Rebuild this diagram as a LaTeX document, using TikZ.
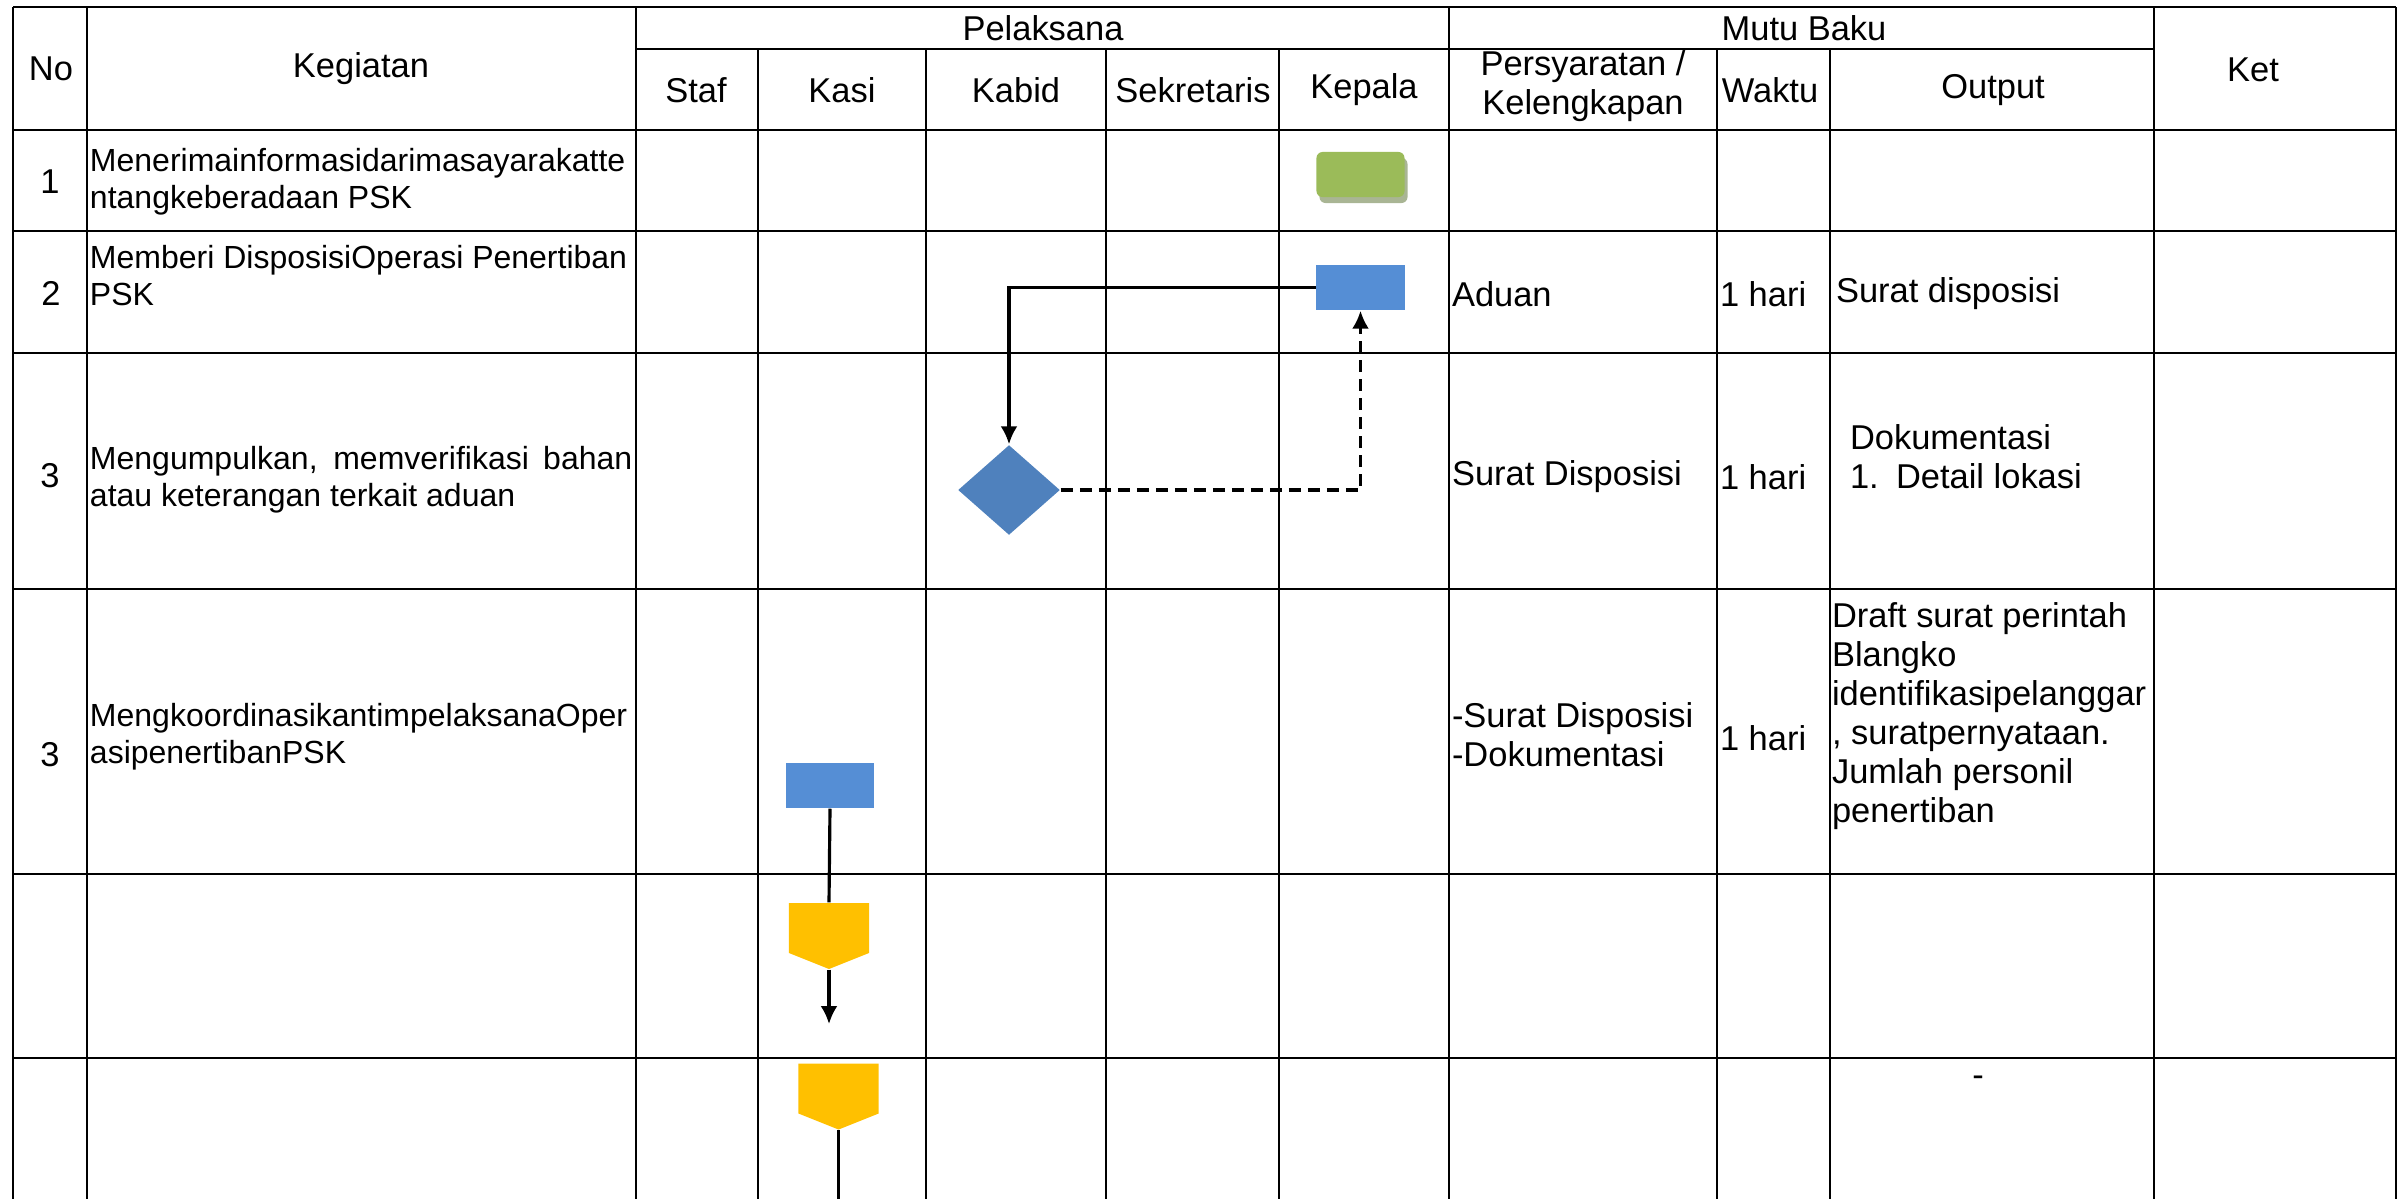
\documentclass[tikz,border=0pt]{standalone}
\usepackage{fontspec}
\setmainfont{Liberation Sans}
\usepackage{tikz}
\usetikzlibrary{positioning,arrows.meta,shapes.geometric,shadows}
\definecolor{startgreen}{HTML}{9BBB59}
\definecolor{startshadow}{HTML}{A9B594}
\definecolor{procblue}{HTML}{558ED5}
\definecolor{decblue}{HTML}{4F81BD}
\definecolor{pageyellow}{HTML}{FFC000}
\tikzstyle{tableline}=[draw=black,line width=0.6pt]
\tikzstyle{flow}=[arrows={-{Latex[length=0.18cm,width=0.17cm]}},draw=black,line width=0.9pt]
\tikzstyle{link}=[draw=black,line width=0.9pt]
\tikzstyle{celltext}=[inner sep=0pt,outer sep=0pt,font=\fontsize{9.8pt}{11.1pt}\selectfont]
\tikzstyle{headtext}=[style=celltext,align=center]
\tikzstyle{entrytext}=[style=celltext,anchor=west,align=left]
\tikzstyle{tasktext}=[style=entrytext,font=\fontsize{9.1pt}{10.6pt}\selectfont]
\def\boxwidth{0.88cm}
\def\boxheight{0.45cm}
\def\taskwidth{5.42cm}
\def\pointdepth{0.16cm}
\tikzstyle{startbox}=[fill=startgreen,rounded corners=0.06cm,inner sep=0pt,
    minimum width=\boxwidth,minimum height=\boxheight,
    drop shadow={shadow xshift=0.03cm,shadow yshift=-0.06cm,fill=startshadow,opacity=1}]
\tikzstyle{process}=[fill=procblue,inner sep=0pt,minimum width=\boxwidth,minimum height=\boxheight]
\tikzstyle{decision}=[diamond,fill=decblue,inner sep=0pt,minimum width=1.02cm,minimum height=0.9cm]
\tikzstyle{offpage}=[inner sep=0pt,minimum width=0.8cm,minimum height=0.66cm,
    path picture={\fill[pageyellow] (path picture bounding box.north west)
        -- (path picture bounding box.north east)
        -- ([yshift=\pointdepth]path picture bounding box.south east)
        -- (path picture bounding box.south)
        -- ([yshift=\pointdepth]path picture bounding box.south west) -- cycle;}]

\begin{document}
\begin{tikzpicture}[x=0.01cm,y=-0.01cm]
    \useasboundingbox (0,0) rectangle (2400,1199);
    \foreach \x in {13,87,636,1449,2154,2396} \draw[tableline] (\x,7) -- (\x,1199);
    \foreach \x in {758,926,1106,1279,1717,1830} \draw[tableline] (\x,49) -- (\x,1199);
    \foreach \y in {7,130,231,353,589,874,1058} \draw[tableline] (13,\y) -- (2396,\y);
    \draw[tableline] (636,49) -- (2154,49);

    \node[headtext] (hno) at (51,69) {No};
    \node[headtext] (hkeg) at (361,69) {Kegiatan};
    \node[headtext] (hpel) at (1043,28) {Pelaksana};
    \node[headtext] (hstaf) at (696,90) {Staf};
    \node[headtext] (hkasi) at (842,90) {Kasi};
    \node[headtext] (hkabid) at (1016,90) {Kabid};
    \node[headtext] (hsek) at (1193,90) {Sekretaris};
    \node[headtext] (hkep) at (1364,90) {Kepala};
    \node[headtext] (hmutu) at (1804,28) {Mutu Baku};
    \node[headtext] (hsyarat) at (1583,86) {Persyaratan /\\Kelengkapan};
    \node[headtext] (hwaktu) at (1770,90) {Waktu};
    \node[headtext] (houtput) at (1993,90) {Output};
    \node[headtext] (hket) at (2253,70) {Ket};

    \node[headtext] (no1) at (50,182) {1};
    \node[headtext] (no2) at (51,293) {2};
    \node[headtext] (no3) at (50,476) {3};
    \node[headtext] (no4) at (50,755) {3};

    \node[tasktext] (keg1) at (90,181.5) {Menerimainformasidarimasayarakatte\\ntangkeberadaan PSK};
    \node[tasktext] (keg2) at (90,275.5) {Memberi DisposisiOperasi Penertiban\\PSK};
    \node[tasktext] (keg3) at (90,479.5) {\makebox[\taskwidth][s]{Mengumpulkan, memverifikasi bahan}\\atau keterangan terkait aduan};
    \node[tasktext] (keg4) at (90,736.5) {MengkoordinasikantimpelaksanaOper\\asipenertibanPSK};

    \node[entrytext] (syarat2) at (1452,294) {Aduan};
    \node[entrytext] (syarat3) at (1452,477) {Surat Disposisi};
    \node[entrytext] (syarat4) at (1452,735) {-Surat Disposisi\\-Dokumentasi};
    \node[entrytext] (waktu2) at (1720,294) {1 hari};
    \node[entrytext] (waktu3) at (1720,477) {1 hari};
    \node[entrytext] (waktu4) at (1720,738) {1 hari};
    \node[entrytext] (output2) at (1836,294) {Surat disposisi};
    \node[entrytext] (output3) at (1850,457) {Dokumentasi\\\makebox[0.46cm][l]{1.}Detail lokasi};
    \node[entrytext] (output4) at (1832,716) {Draft surat perintah\\Blangko\\identifikasipelanggar\\, suratpernyataan.\\Jumlah personil\\penertiban};
    \node[headtext] (output6) at (1978,1081) {-};

    \node[startbox] (kepala1) at (1360.5,174.5) {};
    \node[process] (kepala2) at (1360.5,287.5) {};
    \node[decision] (kabid3) at (1009,490) {};
    \node[process] (kasi4) at (830,785.5) {};
    \node[offpage] (kasi5) at (829,936) {};
    \node[offpage] (kasi6) at (838.5,1096.5) {};
    \coordinate (kasi5end) at (829,1024);
    \coordinate (kasi6end) at (838.5,1199);

    \draw[flow] (kepala2.west) -| (kabid3.north);
    \draw[flow,dash pattern=on 0.12cm off 0.07cm] (kabid3.east) -| (kepala2.south);
    \draw[link] (kasi4.south) -- (kasi5.north);
    \draw[flow] (kasi5.south) -- (kasi5end);
    \draw[link] (kasi6.south) -- (kasi6end);
\end{tikzpicture}
\end{document}
